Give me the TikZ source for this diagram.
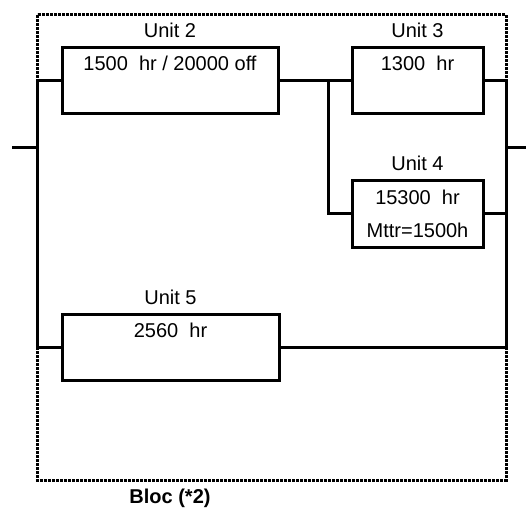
\documentclass[tikz,border=0pt]{standalone}
\usepackage{fontspec}
\setmainfont{Liberation Sans}
\begin{document}
\begin{tikzpicture}[x=1pt,y=-1pt,
  unitbox/.style={draw,line width=3pt,minimum height=66pt,inner sep=0pt},
  wire/.style={line width=3pt},
  blocline/.style={line width=3pt,dash pattern=on 2.7pt off 1.3pt},
  txt/.style={anchor=base,inner sep=0pt,font=\fontsize{20}{24}\selectfont},
  btxt/.style={anchor=base,inner sep=0pt,font=\fontsize{20}{24}\selectfont\bfseries}]
\useasboundingbox (0,0) rectangle (526,510);
% block outline
\draw[blocline] (37,15) rectangle (506,480);
% boxes
\node[unitbox,fill=white,minimum width=216pt] (u2) at (170,81) {};
\node[unitbox,fill=white,minimum width=131pt] (u3) at (417.5,81) {};
\node[unitbox,fill=white,minimum width=131pt] (u4) at (417.5,214) {};
\node[unitbox,fill=white,minimum width=217pt] (u5) at (170.5,347) {};
% coordinates
\coordinate (L1) at (37,81);
\coordinate (L2) at (37,347);
\coordinate (R1) at (506,81);
\coordinate (R2) at (506,347);
\coordinate (B1) at (328,81);
\coordinate (inA) at (12,148);
\coordinate (inB) at (37,148);
\coordinate (outA) at (506,148);
\coordinate (outB) at (526,148);
% wires
\draw[wire] (u2.west) -- (L1) -- (L2) -- (u5.west);
\draw[wire] (u2.east) -- (u3.west);
\draw[wire] (B1) |- (u4.west);
\draw[wire] (u3.east) -- (R1) -- (R2) -- (u5.east);
\draw[wire] (u4.east) -- (u4.east -| R1);
\draw[wire] (inA) -- (inB);
\draw[wire] (outA) -- (outB);
% labels
\node[txt] (l2) at (170,38) {Unit 2};
\node[txt] (t2) at (170,71) {1500~~hr / 20000 off};
\node[txt] (l3) at (417.5,38) {Unit 3};
\node[txt] (t3) at (417.5,71) {1300~~hr};
\node[txt] (l4) at (417.5,171) {Unit 4};
\node[txt] (t4a) at (417.5,205) {15300~~hr};
\node[txt] (t4b) at (417.5,237) {Mttr=1500h};
\node[txt] (l5) at (170.5,304) {Unit 5};
\node[txt] (t5) at (170.5,337) {2560~~hr};
\node[btxt] (bl) at (170,503) {Bloc (*2)};
\end{tikzpicture}
\end{document}
